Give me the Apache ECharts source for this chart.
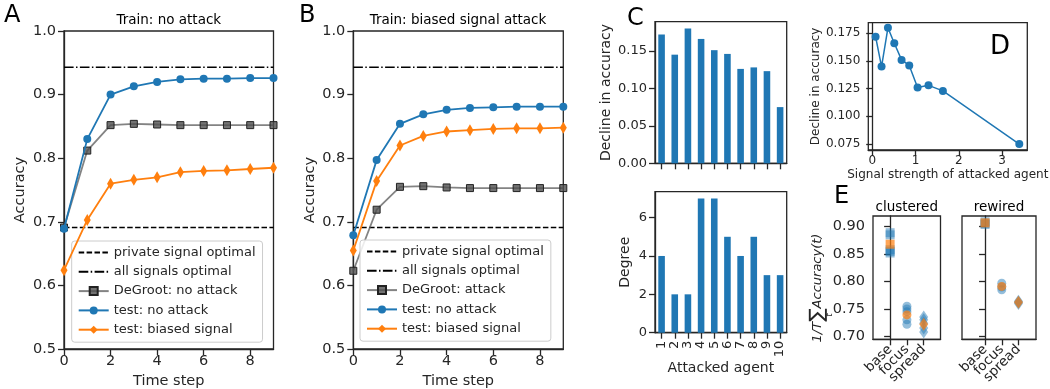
<!DOCTYPE html>
<html><head><meta charset="utf-8">
<script src="https://cdn.jsdelivr.net/npm/echarts@6/dist/echarts.min.js"></script>
<style>html,body{margin:0;padding:0;background:#fff;}#c{width:1050px;height:389px;}</style>
</head><body><div id="c"></div>
<script>
// ---------- data ----------
const timeSteps = [0, 1, 2, 3, 4, 5, 6, 7, 8, 9];
const timeTicks = [0, 2, 4, 6, 8];
const accuracyTicks = [0.5, 0.6, 0.7, 0.8, 0.9, 1.0];
const privateSignalOptimal = 0.691;
const allSignalsOptimal = 0.943;

// Panel A: Train: no attack
const aTestNoAttack = [0.689, 0.830, 0.900, 0.913, 0.920, 0.924, 0.925, 0.925, 0.926, 0.926];
const aTestBiased   = [0.624, 0.703, 0.760, 0.766, 0.770, 0.778, 0.780, 0.781, 0.783, 0.785];
const aDeGroot      = [0.691, 0.812, 0.852, 0.854, 0.853, 0.852, 0.852, 0.852, 0.852, 0.852];
// Panel B: Train: biased signal attack
const bTestNoAttack = [0.679, 0.797, 0.854, 0.869, 0.876, 0.879, 0.880, 0.881, 0.881, 0.881];
const bTestBiased   = [0.655, 0.764, 0.820, 0.835, 0.842, 0.844, 0.846, 0.847, 0.847, 0.848];
const bDeGroot      = [0.623, 0.719, 0.755, 0.756, 0.754, 0.753, 0.753, 0.753, 0.753, 0.753];

// Panel C / D
const attackedAgents = ['1', '2', '3', '4', '5', '6', '7', '8', '9', '10'];
const declineInAccuracy = [0.172, 0.145, 0.180, 0.166, 0.151, 0.146, 0.126, 0.128, 0.123, 0.075];
const degree = [4, 2, 2, 7, 7, 5, 4, 5, 3, 3];
const declineTicks = [0, 0.05, 0.10, 0.15];
const degreeTicks = [0, 2, 4, 6];
const signalStrength = [0.078, 0.216, 0.363, 0.510, 0.678, 0.855, 1.047, 1.300, 1.632, 3.395];
const signalTicks = [0, 1, 2, 3];
const dDeclineTicks = [0.075, 0.100, 0.125, 0.150, 0.175];

// Panel E
const eCategories = ['base', 'focus', 'spread'];
const eTicks = [0.70, 0.75, 0.80, 0.85, 0.90];
const clusteredBase   = [0.889, 0.885, 0.858, 0.855, 0.852];
const clusteredFocus  = [0.755, 0.750, 0.745, 0.730, 0.722];
const clusteredSpread = [0.735, 0.730, 0.724, 0.715, 0.708];
const clusteredMeans  = [0.868, 0.739, 0.722];
const rewiredBase     = [0.909, 0.906, 0.904];
const rewiredFocus    = [0.797, 0.790, 0.785];
const rewiredSpread   = [0.764, 0.762, 0.760];
const rewiredMeans    = [0.907, 0.791, 0.762];

// ---------- styles ----------
const FONT = 'DejaVu Sans';
const INK = '#262626';
const BLUE = '#1f77b4';
const ORANGE = '#ff7f0e';
const axisLine = { show: true, lineStyle: { color: INK, width: 1.3 } };

function valAxis(o) {
  return {
    type: 'value', gridIndex: o.grid, min: o.min, max: o.max, scale: true,
    splitLine: { show: false },
    axisLine: axisLine,
    axisTick: { show: true, length: 6, lineStyle: { color: INK, width: 1.3 }, customValues: o.tickVals || o.ticks },
    axisLabel: {
      show: o.labels !== false, customValues: o.ticks, margin: o.margin || 8,
      showMinLabel: o.showEnds === undefined ? true : o.showEnds,
      showMaxLabel: o.showEnds === undefined ? true : o.showEnds,
      hideOverlap: false,
      fontSize: o.fs, fontFamily: FONT, color: INK, rotate: o.rotate || 0,
      formatter: o.fmt
    },
    name: o.name || '', nameLocation: 'middle', nameGap: o.nameGap || 20,
    nameTextStyle: { fontSize: o.nfs || o.fs, fontFamily: FONT, color: INK }
  };
}
function catAxis(o) {
  return {
    type: 'category', gridIndex: o.grid, data: attackedAgents, boundaryGap: true,
    axisLine: axisLine,
    axisTick: { show: true, length: 6, alignWithLabel: true, interval: 0, lineStyle: { color: INK, width: 1.3 } },
    axisLabel: { show: o.labels !== false, interval: 0, rotate: 90, margin: 8, fontSize: o.fs, fontFamily: FONT, color: INK },
    splitLine: { show: false },
    name: o.name || '', nameLocation: 'middle', nameGap: o.nameGap || 20,
    nameTextStyle: { fontSize: o.nfs || o.fs, fontFamily: FONT, color: INK }
  };
}
// E panels: value axis with category names at 0,1,2; end values carry empty labels/ticks that are suppressed
function eAxis(grid, min, max, lo, hi) {
  const vals = [lo, 0, 1, 2, hi];
  return valAxis({ grid, min, max, ticks: vals, tickVals: vals, fs: 13.5, rotate: 45, showEnds: false,
    fmt: v => { const k = Math.round(v); return (Math.abs(v - k) < 1e-6 && eCategories[k]) ? eCategories[k] : ''; } });
}
function gridBox(left, top, width, height) {
  return { left, top, width, height, show: true, borderColor: INK, borderWidth: 1.3,
           backgroundColor: 'transparent', containLabel: false, outerBoundsMode: 'none' };
}
const pairs = (xs, ys) => xs.map((x, i) => [x, ys[i]]);
const fix = n => v => Number(v).toFixed(n);

function refLines(g) {
  return [
    { name: 'private signal optimal', type: 'line', xAxisIndex: g, yAxisIndex: g, symbol: 'none',
      data: [[0, privateSignalOptimal], [9, privateSignalOptimal]],
      lineStyle: { color: '#000', width: 1.5, type: [5.5, 2.4] }, itemStyle: { color: '#000' }, z: 2 },
    { name: 'all signals optimal', type: 'line', xAxisIndex: g, yAxisIndex: g, symbol: 'none',
      data: [[0, allSignalsOptimal], [9, allSignalsOptimal]],
      lineStyle: { color: '#000', width: 1.5, type: [9.6, 2.4, 1.5, 2.4] }, itemStyle: { color: '#000' }, z: 2 }
  ];
}
function deGroot(g, name, vals) {
  return { name, type: 'line', xAxisIndex: g, yAxisIndex: g, data: pairs(timeSteps, vals),
    symbol: 'rect', symbolSize: 7,
    lineStyle: { color: 'rgba(90,90,90,0.75)', width: 1.8 },
    itemStyle: { color: 'rgba(80,80,80,0.8)', borderColor: '#222', borderWidth: 1 }, z: 3 };
}
function testNo(g, vals) {
  return { name: 'test: no attack', type: 'line', xAxisIndex: g, yAxisIndex: g, data: pairs(timeSteps, vals),
    symbol: 'circle', symbolSize: 8, lineStyle: { color: BLUE, width: 1.8 }, itemStyle: { color: BLUE }, z: 4 };
}
function testBiased(g, vals) {
  return { name: 'test: biased signal', type: 'line', xAxisIndex: g, yAxisIndex: g, data: pairs(timeSteps, vals),
    symbol: 'diamond', symbolSize: [7, 12], lineStyle: { color: ORANGE, width: 1.8 }, itemStyle: { color: ORANGE }, z: 5 };
}
function legendAt(left, top, degName) {
  return {
    orient: 'vertical', left, top, selectedMode: false,
    data: [
      { name: 'private signal optimal', itemStyle: { opacity: 0 } },
      { name: 'all signals optimal', itemStyle: { opacity: 0 } },
      degName, 'test: no attack', 'test: biased signal'
    ],
    itemWidth: 30, itemHeight: 10, itemGap: 6.3, padding: [5, 7, 6, 6],
    backgroundColor: 'rgba(255,255,255,0.85)', borderColor: '#cccccc', borderWidth: 1, borderRadius: 3,
    textStyle: { fontSize: 13, fontFamily: FONT, color: INK, lineHeight: 13 }
  };
}
function eScatter(g, xIdx, vals, symbol, size) {
  return { type: 'scatter', xAxisIndex: g, yAxisIndex: g, symbol, symbolSize: size,
    data: vals.map(v => [xIdx, v]), itemStyle: { color: 'rgba(31,119,180,0.6)' }, z: 3 };
}
function eMeans(g, means) {
  const syms = ['rect', 'circle', 'diamond'];
  const sizes = [9, 9, [9, 13]];
  return means.map((m, i) => ({ type: 'scatter', xAxisIndex: g, yAxisIndex: g, symbol: syms[i], symbolSize: sizes[i],
    data: [[i, m]], itemStyle: { color: 'rgba(255,127,14,0.88)' }, z: 4 }));
}
function txt(text, x, y, fs, align) {
  return { type: 'text', x, y, style: { text, font: fs + 'px "DejaVu Sans"', fill: '#000',
    align: align || 'left', verticalAlign: 'middle' } };
}

const option = {
  animation: false,
  backgroundColor: '#fff',
  grid: [
    gridBox(64, 31, 209.5, 318),     // A
    gridBox(353.3, 31, 210, 318),    // B
    gridBox(655, 21.7, 131.7, 141.6),// C top
    gridBox(655, 191.7, 131.7, 141), // C bottom
    gridBox(868.3, 22.7, 159, 127.3),// D
    gridBox(873, 216, 67.5, 123.3),  // E clustered
    gridBox(962, 216, 74, 123.3)     // E rewired
  ],
  xAxis: [
    valAxis({ grid: 0, min: 0, max: 9, ticks: timeTicks, fs: 14.5, fmt: v => String(v), name: 'Time step', nameGap: 22, margin: 5 }),
    valAxis({ grid: 1, min: 0, max: 9, ticks: timeTicks, fs: 14.5, fmt: v => String(v), name: 'Time step', nameGap: 22, margin: 5 }),
    catAxis({ grid: 2, labels: false, fs: 13 }),
    catAxis({ grid: 3, fs: 13, nfs: 14, name: 'Attacked agent', nameGap: 27 }),
    valAxis({ grid: 4, min: -0.09, max: 3.58, ticks: signalTicks, fs: 12, fmt: v => String(v), name: 'Signal strength of attacked agent', nameGap: 19, margin: 5 }),
    eAxis(5, -1.02, 3.0, -0.95, 2.95),
    eAxis(6, -1.38, 3.05, -1.3, 3.0)
  ],
  yAxis: [
    valAxis({ grid: 0, min: 0.5, max: 1.0, ticks: accuracyTicks, fs: 14.5, fmt: fix(1), name: 'Accuracy', nameGap: 36 }),
    valAxis({ grid: 1, min: 0.5, max: 1.0, ticks: accuracyTicks, fs: 14.5, fmt: fix(1), name: 'Accuracy', nameGap: 36 }),
    valAxis({ grid: 2, min: 0, max: 0.189, ticks: declineTicks, fs: 13, nfs: 14, fmt: fix(2), name: 'Decline in accuracy', nameGap: 42 }),
    valAxis({ grid: 3, min: 0, max: 7.35, ticks: degreeTicks, fs: 13, nfs: 14, fmt: v => String(v), name: 'Degree', nameGap: 23 }),
    valAxis({ grid: 4, min: 0.0696, max: 0.1846, ticks: dDeclineTicks, fs: 12, fmt: fix(3), name: 'Decline in accuracy', nameGap: 42 }),
    valAxis({ grid: 5, min: 0.6945, max: 0.9195, ticks: eTicks, fs: 14.5, fmt: fix(2) }),
    valAxis({ grid: 6, min: 0.6945, max: 0.9195, ticks: eTicks, fs: 14.5, labels: false })
  ],
  legend: [legendAt(71.7, 241, 'DeGroot: no attack'), legendAt(360, 240, 'DeGroot: attack')],
  series: [
    ...refLines(0), deGroot(0, 'DeGroot: no attack', aDeGroot), testNo(0, aTestNoAttack), testBiased(0, aTestBiased),
    ...refLines(1), deGroot(1, 'DeGroot: attack', bDeGroot), testNo(1, bTestNoAttack), testBiased(1, bTestBiased),
    { type: 'bar', xAxisIndex: 2, yAxisIndex: 2, data: declineInAccuracy, barWidth: '50%', itemStyle: { color: BLUE } },
    { type: 'bar', xAxisIndex: 3, yAxisIndex: 3, data: degree, barWidth: '50%', itemStyle: { color: BLUE } },
    { type: 'line', xAxisIndex: 4, yAxisIndex: 4, data: pairs(signalStrength, declineInAccuracy),
      symbol: 'circle', symbolSize: 8, lineStyle: { color: BLUE, width: 1.5 }, itemStyle: { color: BLUE } },
    eScatter(5, 0, clusteredBase, 'rect', 9), eScatter(5, 1, clusteredFocus, 'circle', 9), eScatter(5, 2, clusteredSpread, 'diamond', [9, 13]),
    ...eMeans(5, clusteredMeans),
    eScatter(6, 0, rewiredBase, 'rect', 9), eScatter(6, 1, rewiredFocus, 'circle', 9), eScatter(6, 2, rewiredSpread, 'diamond', [9, 13]),
    ...eMeans(6, rewiredMeans)
  ],
  graphic: [
    txt('A', 4, 16, 24), txt('B', 299, 16, 24), txt('C', 627, 19, 24), txt('D', 990, 47, 26), txt('E', 834, 197, 24),
    txt('Train: no attack', 168.8, 20.5, 13.5, 'center'),
    txt('Train: biased signal attack', 458, 20.5, 13.5, 'center'),
    txt('clustered', 906.7, 207, 13.5, 'center'),
    txt('rewired', 999, 207, 13.5, 'center'),
    { type: 'group', x: 818, y: 288, rotation: Math.PI / 2, children: [
      { type: 'text', x: 0, y: 0, style: { text: '{i|1/T}{s|∑}{i|Accuracy(t)}', align: 'center', verticalAlign: 'middle',
        rich: { i: { font: 'italic 13px "DejaVu Sans"', fill: INK },
                s: { font: '20px "DejaVu Sans"', fill: INK } } } },
      { type: 'text', x: -27, y: 12, style: { text: 't', font: 'italic 9px "DejaVu Sans"', fill: INK, align: 'center', verticalAlign: 'middle' } }
    ] }
  ]
};
const chart = echarts.init(document.getElementById('c'), null, { renderer: 'canvas' });
chart.setOption(option);
</script></body></html>
